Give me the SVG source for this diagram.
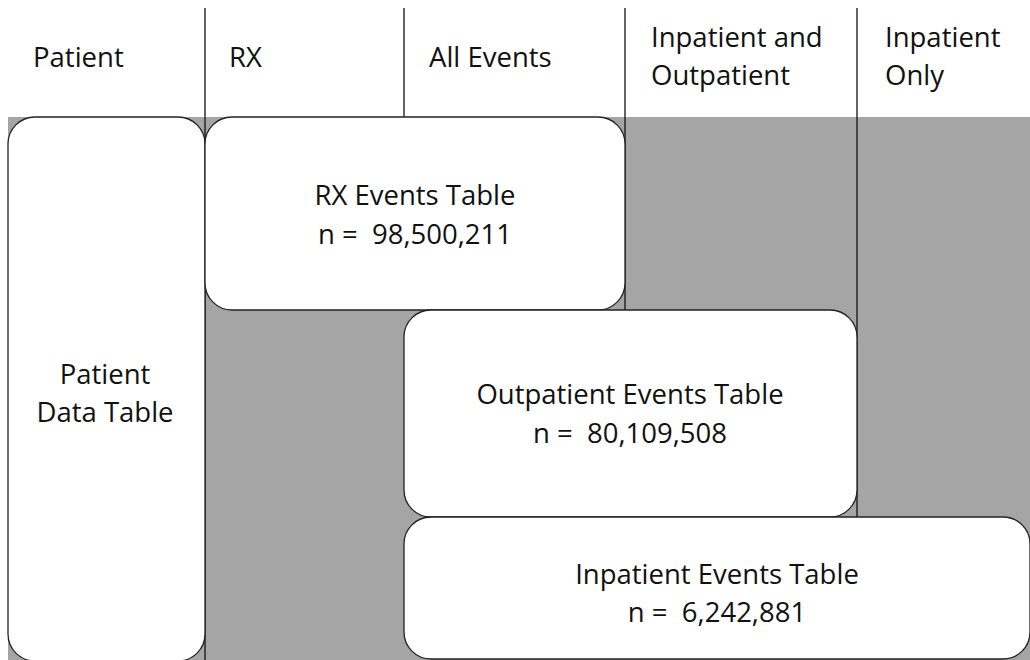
<svg xmlns="http://www.w3.org/2000/svg" width="1030" height="660" viewBox="0 0 1030 660">
<style>
text{font-family:"Open Sans","Noto Sans",sans-serif;font-size:27.5px;fill:#111;white-space:pre}
.c{text-anchor:middle}
.box{fill:#fff;stroke:#222;stroke-width:1.3}
.ln{stroke:#111;stroke-width:1.3}
</style>
<rect x="8" y="117" width="1030" height="560" fill="#a5a5a5"/>
<g id="grid">
<line class="ln" x1="205" y1="8" x2="205" y2="660"/>
<line class="ln" x1="404" y1="8" x2="404" y2="310"/>
<line class="ln" x1="625" y1="8" x2="625" y2="310"/>
<line class="ln" x1="857" y1="8" x2="857" y2="517"/>
</g>
<g id="headers">
<text x="33" y="67">Patient</text>
<text x="229" y="67">RX</text>
<text x="429" y="67">All Events</text>
<text x="651" y="47">Inpatient and</text>
<text x="651" y="85">Outpatient</text>
<text x="885" y="47">Inpatient</text>
<text x="885" y="85">Only</text>
</g>
<g id="patient">
<rect class="box" x="8" y="117" width="197" height="544" rx="27"/>
<text class="c" x="105" y="384">Patient</text>
<text class="c" x="105" y="422">Data Table</text>
</g>
<g id="rx">
<rect class="box" x="205" y="117" width="420" height="193" rx="27"/>
<text class="c" x="415" y="205">RX Events Table</text>
<text class="c" x="415" y="244">n =  98,500,211</text>
</g>
<g id="outpatient">
<rect class="box" x="404" y="310" width="453" height="207" rx="27"/>
<text class="c" x="630" y="404">Outpatient Events Table</text>
<text class="c" x="630" y="443">n =  80,109,508</text>
</g>
<g id="inpatient">
<rect class="box" x="404" y="517" width="626" height="142" rx="27"/>
<text class="c" x="717" y="584">Inpatient Events Table</text>
<text class="c" x="717" y="622">n =  6,242,881</text>
</g>
</svg>
